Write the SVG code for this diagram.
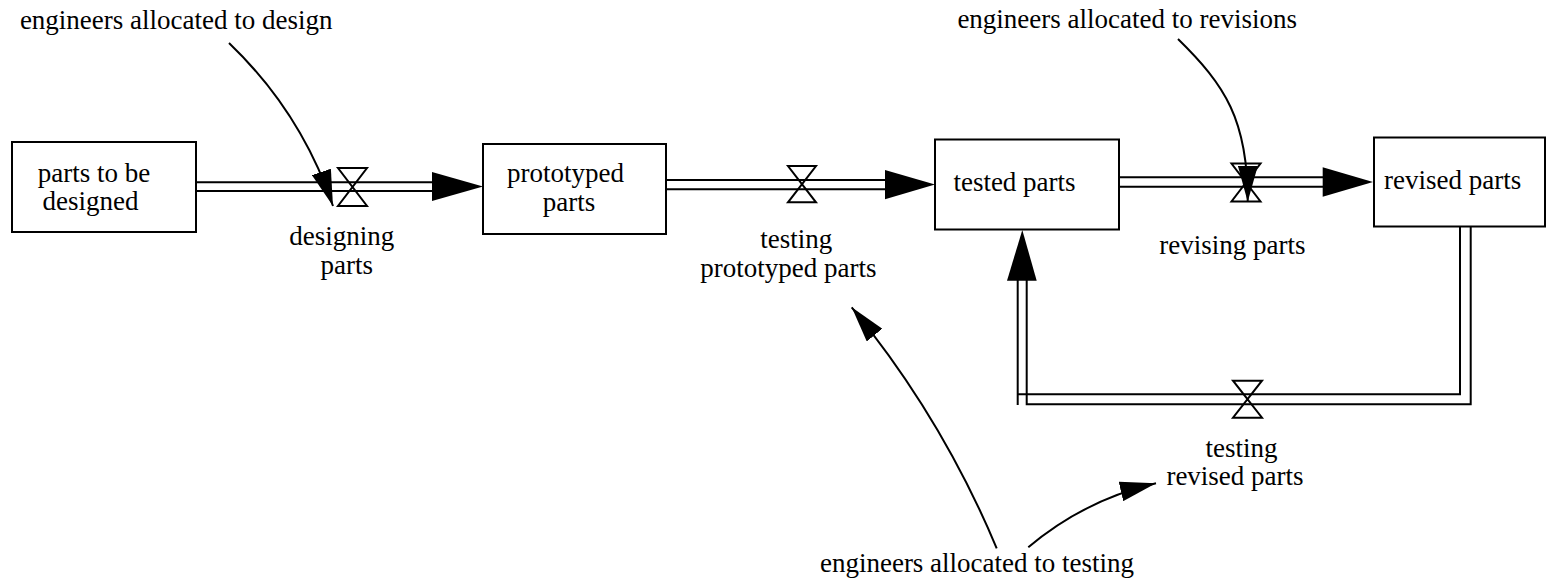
<svg xmlns="http://www.w3.org/2000/svg" width="1547" height="579" viewBox="0 0 1547 579">
  <style>
    .lbl { font-family: 'Times New Roman', 'Liberation Serif', 'DejaVu Serif', serif; font-size: 27px; fill: #000; text-anchor: middle; }
    .stock { fill: #fff; stroke: #000; stroke-width: 2; }
    .pipe { fill: none; stroke: #000; stroke-width: 2; }
    .valve { fill: none; stroke: #000; stroke-width: 2; stroke-linejoin: miter; }
    .link { fill: none; stroke: #000; stroke-width: 2; }
    .head { fill: #000; stroke: none; }
  </style>
  <defs>
    <marker id="inf" viewBox="0 0 36 20" refX="36" refY="10" markerWidth="36" markerHeight="20" markerUnits="userSpaceOnUse" orient="auto">
      <path d="M0,0 L36,10 L0,20 Z" fill="#000"/>
    </marker>
  </defs>
  <rect width="1547" height="579" fill="#fff"/>

  <!-- flow pipes, flow arrowheads and influence links -->
  <g id="connectors">
    <!-- designing parts -->
    <path class="pipe" d="M196,182.3 H433 M196,191 H433"/>
    <path class="head" d="M432,172 L483,186.6 L432,201 Z"/>
    <!-- testing prototyped parts -->
    <path class="pipe" d="M666,180 H886 M666,189.3 H886"/>
    <path class="head" d="M885,170 L935,184.6 L885,199.3 Z"/>
    <!-- revising parts -->
    <path class="pipe" d="M1119,177.3 H1324 M1119,186.7 H1324"/>
    <path class="head" d="M1322.7,167.3 L1373,182 L1322.7,196.7 Z"/>
    <!-- testing revised parts (return loop) -->
    <path class="pipe" d="M1460,227 V394.3 H1016.7 M1017.7,280 V405"/>
    <path class="pipe" d="M1470.7,227 V404.3 H1026.7 V280"/>
    <path class="head" d="M1007,280.7 L1022.3,230 L1036.7,280.7 Z"/>

    <!-- influence links -->
    <path class="link" marker-end="url(#inf)" d="M229,43 Q301,112 333,206"/>
    <path class="link" marker-end="url(#inf)" d="M1178,39 C1225,85 1248,120 1247.7,201.7"/>
    <path class="link" marker-end="url(#inf)" d="M996.7,548.3 Q941.9,417.2 851.7,307.3"/>
    <path class="link" marker-end="url(#inf)" d="M1028.3,547.3 Q1084.3,499.9 1156,483.3"/>
  </g>

  <!-- stocks -->
  <g id="parts-to-be-designed">
    <rect class="stock" x="12" y="142" width="184" height="90"/>
    <text class="lbl" x="94" y="181.5">parts to be</text>
    <text class="lbl" x="90.5" y="209.5">designed</text>
  </g>
  <g id="prototyped-parts">
    <rect class="stock" x="483" y="144" width="183" height="90"/>
    <text class="lbl" x="565.5" y="181.7">prototyped</text>
    <text class="lbl" x="569" y="210.5">parts</text>
  </g>
  <g id="tested-parts">
    <rect class="stock" x="935" y="139.5" width="184" height="90"/>
    <text class="lbl" x="1014.5" y="191">tested parts</text>
  </g>
  <g id="revised-parts">
    <rect class="stock" x="1374" y="137.5" width="171" height="89"/>
    <text class="lbl" x="1452.7" y="189">revised parts</text>
  </g>

  <!-- flow valves and rate labels -->
  <g id="designing-parts">
    <path class="valve" d="M338,168 H367 L338,206 H367 Z"/>
    <text class="lbl" x="341.7" y="245">designing</text>
    <text class="lbl" x="346.7" y="274">parts</text>
  </g>
  <g id="testing-prototyped-parts">
    <path class="valve" d="M788,166 H816 L788,202.3 H816 Z"/>
    <text class="lbl" x="796.3" y="248.3">testing</text>
    <text class="lbl" x="788.3" y="276.7">prototyped parts</text>
  </g>
  <g id="revising-parts">
    <path class="valve" d="M1231.5,163.5 H1260.5 L1231.5,201.5 H1260.5 Z"/>
    <text class="lbl" x="1232.3" y="254.3">revising parts</text>
  </g>
  <g id="testing-revised-parts">
    <path class="valve" d="M1233,380.7 H1262 L1233,417.7 H1262 Z"/>
    <text class="lbl" x="1241.5" y="456.7">testing</text>
    <text class="lbl" x="1235" y="485">revised parts</text>
  </g>

  <!-- auxiliary variables -->
  <g id="engineers-allocated-to-design">
    <text class="lbl" x="176.2" y="29">engineers allocated to design</text>
  </g>
  <g id="engineers-allocated-to-revisions">
    <text class="lbl" x="1127.2" y="27.5">engineers allocated to revisions</text>
  </g>
  <g id="engineers-allocated-to-testing">
    <text class="lbl" x="977" y="571.7">engineers allocated to testing</text>
  </g>
</svg>
